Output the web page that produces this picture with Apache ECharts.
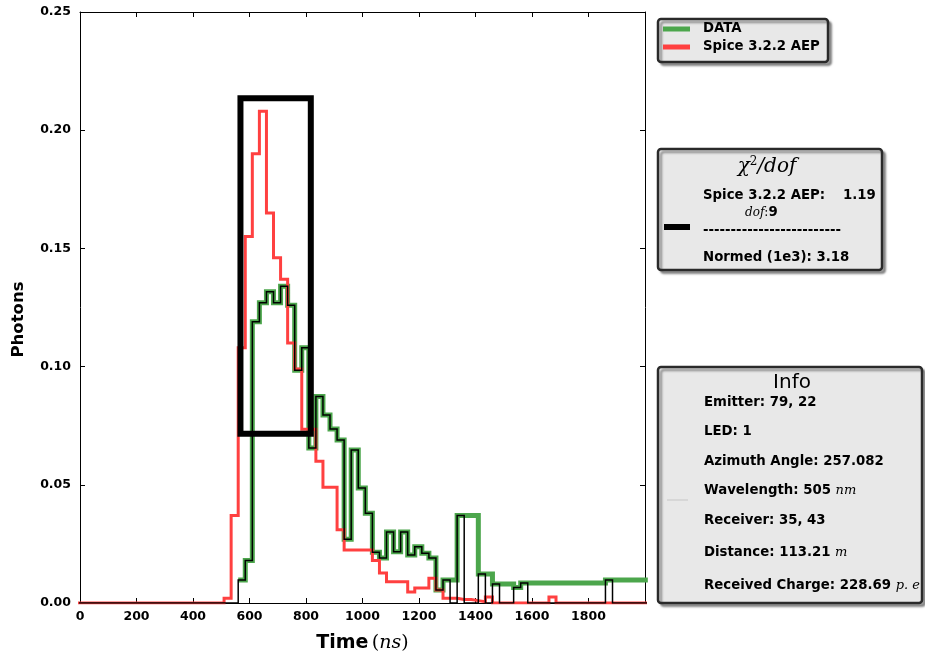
<!DOCTYPE html>
<html>
<head>
<meta charset="utf-8">
<script src="https://cdn.jsdelivr.net/npm/echarts@6/dist/echarts.min.js"></script>
<style>
  html, body { margin: 0; padding: 0; background: #ffffff; }
  #chart { width: 925px; height: 658px; }
</style>
</head>
<body>
<div id="chart"></div>
<script>
// Histogram bin left edges in ns (25 ns bins); the last bin closes at binEndNs
const binStartNs = [
  -15, 10, 35, 60, 85, 110, 135, 160, 185, 210, 235, 260, 285, 310, 335, 360, 385, 410, 435, 460,
  485, 510, 535, 560, 585, 610, 635, 660, 685, 710, 735, 760, 785, 810, 835, 860, 885, 910, 935, 960,
  985, 1010, 1035, 1060, 1085, 1110, 1135, 1160, 1185, 1210, 1235, 1260, 1285, 1310, 1335, 1360, 1385, 1410, 1435, 1460,
  1485, 1510, 1535, 1560, 1585, 1610, 1635, 1660, 1685, 1710, 1735, 1760, 1785, 1810, 1835, 1860, 1885, 1910, 1935, 1960,
  1985
];
const binEndNs = 2010;

// Simulated photons per bin (Spice 3.2.2 AEP)
const spicePhotons = [
  0,
  0, 0, 0, 0, 0, 0, 0, 0, 0, 0,
  0, 0, 0, 0, 0, 0, 0, 0, 0, 0,
  0.002, 0.037, 0.108, 0.155, 0.190, 0.208, 0.165, 0.146, 0.137, 0.110,
  0.099, 0.0735, 0.0735, 0.060, 0.049, 0.049, 0.031, 0.0224, 0.0224, 0.0224,
  0.0224, 0.018, 0.0127, 0.009, 0.009, 0.009, 0.0047, 0.0063, 0.0063, 0.0105,
  0.0055, 0.002, 0.002, 0.0015, 0.0015, 0.001, 0.0005, 0.0025, 0, 0,
  0, 0, 0, 0, 0, 0, 0.0025, 0, 0, 0,
  0, 0, 0, 0, 0, 0, 0, 0, 0, 0
];

// Measured photons per bin (DATA)
const dataPhotons = [
  0,
  0, 0, 0, 0, 0, 0, 0, 0, 0, 0,
  0, 0, 0, 0, 0, 0, 0, 0, 0, 0,
  0, 0, 0.0097, 0.018, 0.119, 0.127, 0.1317, 0.127, 0.134, 0.126,
  0.0985, 0.108, 0.0656, 0.0873, 0.0795, 0.0736, 0.069, 0.027, 0.0647, 0.0486,
  0.038, 0.0215, 0.019, 0.030, 0.0217, 0.030, 0.0203, 0.0238, 0.021, 0.019,
  0.0055, 0.0097, 0, 0.037, 0, 0, 0.0123, 0, 0.008, 0,
  0, 0.0066, 0.0085, 0, 0, 0, 0, 0, 0, 0,
  0, 0, 0, 0, 0.0097, 0, 0, 0, 0, 0
];

// Fit window drawn as a frame (time range and photon range)
const fitWindowNs = [568, 817];
const fitWindowPhotons = [0.0716, 0.2135];

// Axis ranges / ticks
const timeRange = [0, 2000], timeStep = 200;
const photonRange = [0, 0.25], photonStep = 0.05;

// Text panels
const legendItems = [
  { name: 'DATA', color: '#4ca64c' },
  { name: 'Spice 3.2.2 AEP', color: '#ff4040' }
];
const chiModel = 'Spice 3.2.2 AEP:';
const chiValue = '1.19';
const chiDof = '9';
const chiNormed = 'Normed (1e3): 3.18';
const infoLines = [
  ['Emitter: 79, 22', ''],
  ['LED: 1', ''],
  ['Azimuth Angle: 257.082', ''],
  ['Wavelength: 505 ', 'nm'],
  ['Receiver: 35, 43', ''],
  ['Distance: 113.21 ', 'm'],
  ['Received Charge: 228.69 ', 'p. e']
];

const SANS = '"DejaVu Sans", sans-serif';
const SERIF = '"DejaVu Serif", "Liberation Serif", serif';

function stepPoints(values) {
  const pts = binStartNs.map((t, i) => [t, values[i]]);
  pts.push([binEndNs, values[values.length - 1]]);
  return pts;
}

// DATA as a continuous trace: empty bins keep the previous level
function carriedPoints(values) {
  const pts = [];
  binStartNs.forEach((t, i) => { if (values[i] > 0) pts.push([t, values[i]]); });
  pts.push([binEndNs, pts[pts.length - 1][1]]);
  return pts;
}

const chart = echarts.init(document.getElementById('chart'), null, { renderer: 'canvas' });

const boxStyle = {
  fill: '#e8e8e8',
  stroke: '#2a2a2a',
  lineWidth: 2.5,
  shadowColor: 'rgba(0,0,0,0.35)',
  shadowBlur: 2,
  shadowOffsetX: 3,
  shadowOffsetY: 3
};
const boldText = 'bold 13.3px ' + SANS;

const graphics = [];
// legend panel
graphics.push({ type: 'rect', shape: { x: 658, y: 19, width: 170, height: 43, r: 3 }, style: boxStyle, z: 10 });
legendItems.forEach((it, i) => {
  const y = 29 + i * 18;
  graphics.push({ type: 'line', shape: { x1: 663, y1: y, x2: 690, y2: y }, style: { stroke: it.color, lineWidth: 5 }, z: 11 });
  graphics.push({ type: 'text', x: 703, y: y, style: { text: it.name, font: boldText, fill: '#000', verticalAlign: 'middle' }, z: 11 });
});

// chi-square panel
graphics.push({ type: 'rect', shape: { x: 658, y: 149, width: 224, height: 121, r: 3 }, style: boxStyle, z: 10 });
graphics.push({
  type: 'text', x: 767, y: 167,
  style: {
    text: '{m|χ}{s|2}{m|/dof}',
    align: 'center', verticalAlign: 'middle',
    rich: {
      m: { font: 'italic 20px ' + SERIF, fill: '#000' },
      s: { font: '12px ' + SERIF, fill: '#000', verticalAlign: 'top', padding: [0, 0, 10, 0] }
    }
  }, z: 11
});
graphics.push({ type: 'text', x: 703, y: 196, style: { text: chiModel, font: boldText, fill: '#000', verticalAlign: 'middle' }, z: 11 });
graphics.push({ type: 'text', x: 843, y: 196, style: { text: chiValue, font: boldText, fill: '#000', verticalAlign: 'middle' }, z: 11 });
graphics.push({
  type: 'text', x: 745, y: 213,
  style: {
    text: '{i|dof}{c|:}{b|' + chiDof + '}',
    verticalAlign: 'middle',
    rich: {
      i: { font: 'italic 12px ' + SERIF, fill: '#000' },
      c: { font: '12px ' + SERIF, fill: '#000' },
      b: { font: boldText, fill: '#000' }
    }
  }, z: 11
});
graphics.push({ type: 'line', shape: { x1: 664, y1: 227, x2: 690, y2: 227 }, style: { stroke: '#000', lineWidth: 6 }, z: 11 });
graphics.push({ type: 'text', x: 703, y: 231, style: { text: '-------------------------', font: boldText, fill: '#000', verticalAlign: 'middle' }, z: 11 });
graphics.push({ type: 'text', x: 703, y: 258, style: { text: chiNormed, font: boldText, fill: '#000', verticalAlign: 'middle' }, z: 11 });

// info panel
graphics.push({ type: 'rect', shape: { x: 658, y: 367, width: 264, height: 236, r: 3 }, style: boxStyle, z: 10 });
graphics.push({ type: 'text', x: 792, y: 383, style: { text: 'Info', font: '20px ' + SANS, fill: '#000', align: 'center', verticalAlign: 'middle' }, z: 11 });
graphics.push({ type: 'line', shape: { x1: 667, y1: 500, x2: 688, y2: 500 }, style: { stroke: '#d2d2d2', lineWidth: 1.5 }, z: 11 });
const infoY = [403, 432, 462, 491, 521, 553, 586];
infoLines.forEach((ln, i) => {
  graphics.push({
    type: 'text', x: 704, y: infoY[i],
    style: {
      text: '{b|' + ln[0] + '}' + (ln[1] ? '{u|' + ln[1] + '}' : ''),
      verticalAlign: 'middle',
      rich: {
        b: { font: boldText, fill: '#000' },
        u: { font: 'italic 13px ' + SERIF, fill: '#000' }
      }
    }, z: 11
  });
});

const axisFont = { fontFamily: SANS, fontWeight: 'bold', fontSize: 12.5, color: '#000' };

chart.setOption({
  animation: false,
  backgroundColor: '#ffffff',
  grid: { left: 80, right: 280, top: 12, bottom: 55, containLabel: false },
  xAxis: [
    {
      type: 'value', min: timeRange[0], max: timeRange[1], interval: timeStep,
      position: 'bottom',
      axisLine: { show: true, onZero: false, lineStyle: { color: '#000', width: 1 } },
      axisTick: { show: true, inside: true, length: 5, lineStyle: { color: '#000' } },
      axisLabel: Object.assign({ margin: 7, formatter: v => (v >= timeRange[1] ? '' : String(v)) }, axisFont),
      splitLine: { show: false },
      name: '{b|Time} {p|(}{i|ns}{p|)}',
      nameLocation: 'middle', nameGap: 31,
      nameTextStyle: {
        rich: {
          b: { fontFamily: SANS, fontWeight: 'bold', fontSize: 19, color: '#000' },
          p: { fontFamily: SERIF, fontSize: 19, color: '#000' },
          i: { fontFamily: SERIF, fontStyle: 'italic', fontSize: 19, color: '#000' }
        }
      }
    },
    {
      type: 'value', min: timeRange[0], max: timeRange[1], interval: timeStep,
      position: 'top',
      axisLine: { show: true, onZero: false, lineStyle: { color: '#000', width: 1 } },
      axisTick: { show: true, inside: true, length: 5, lineStyle: { color: '#000' } },
      axisLabel: { show: false },
      splitLine: { show: false }
    }
  ],
  yAxis: [
    {
      type: 'value', min: photonRange[0], max: photonRange[1], interval: photonStep,
      position: 'left',
      axisLine: { show: true, onZero: false, lineStyle: { color: '#000', width: 1 } },
      axisTick: { show: true, inside: true, length: 5, lineStyle: { color: '#000' } },
      axisLabel: Object.assign({ margin: 9, formatter: v => v.toFixed(2) }, axisFont),
      splitLine: { show: false },
      name: 'Photons', nameLocation: 'middle', nameGap: 53,
      nameTextStyle: { fontFamily: SANS, fontWeight: 'bold', fontSize: 16.5, color: '#000', padding: [0, 24, 0, 0] }
    },
    {
      type: 'value', min: photonRange[0], max: photonRange[1], interval: photonStep,
      position: 'right',
      axisLine: { show: true, onZero: false, lineStyle: { color: '#000', width: 1 } },
      axisTick: { show: true, inside: true, length: 5, lineStyle: { color: '#000' } },
      axisLabel: { show: false },
      splitLine: { show: false }
    }
  ],
  series: [
    {
      name: 'DATA', type: 'line', step: 'end', data: carriedPoints(dataPhotons),
      showSymbol: false, symbol: 'none', z: 2,
      lineStyle: { color: '#4ca64c', width: 5, join: 'miter' }
    },
    {
      name: 'Spice 3.2.2 AEP', type: 'line', step: 'end', data: stepPoints(spicePhotons),
      showSymbol: false, symbol: 'none', z: 3,
      lineStyle: { color: '#ff4040', width: 3, join: 'miter' }
    },
    {
      name: 'DATA bins', type: 'line', step: 'end', data: stepPoints(dataPhotons),
      showSymbol: false, symbol: 'none', z: 4,
      lineStyle: { color: '#000000', width: 1.5, join: 'miter' }
    },
    {
      name: 'Fit window', type: 'line',
      data: [
        [fitWindowNs[0], fitWindowPhotons[0]], [fitWindowNs[0], fitWindowPhotons[1]],
        [fitWindowNs[1], fitWindowPhotons[1]], [fitWindowNs[1], fitWindowPhotons[0]],
        [fitWindowNs[0], fitWindowPhotons[0]]
      ],
      showSymbol: false, symbol: 'none', z: 5,
      lineStyle: { color: '#000000', width: 6, join: 'miter', cap: 'square' }
    }
  ],
  graphic: graphics
});
</script>
</body>
</html>
